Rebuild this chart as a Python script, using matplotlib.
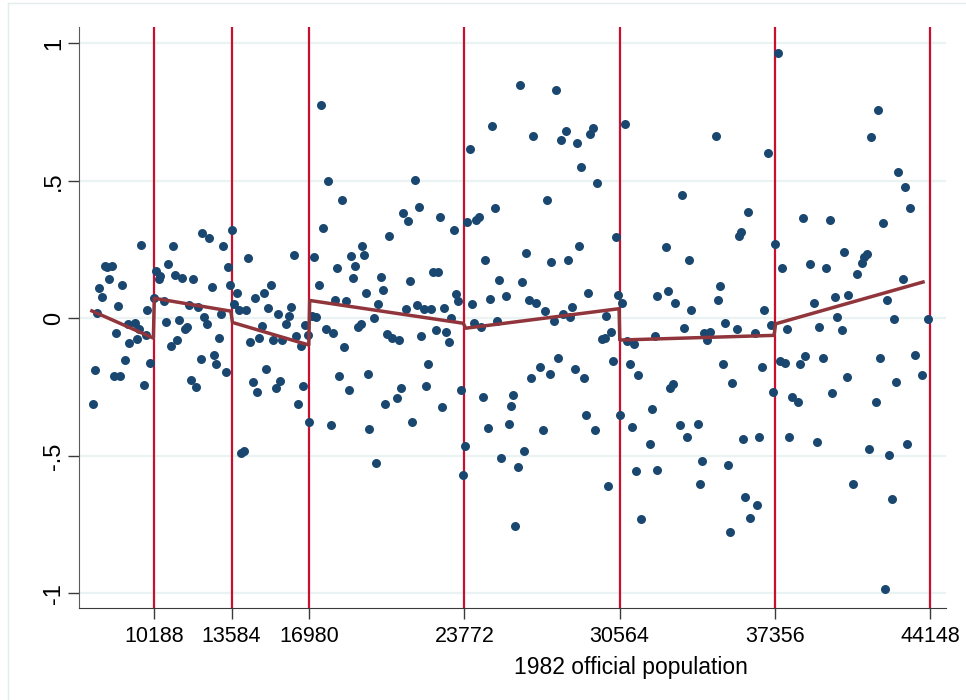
"""RD-style residual scatter against 1982 official population, with cutoffs."""

import matplotlib

matplotlib.use("Agg")
import matplotlib.pyplot as plt
import numpy as np
from matplotlib.lines import Line2D

plt.rcParams["font.family"] = ["Liberation Sans", "DejaVu Sans"]

# population thresholds (vertical lines / x ticks)
cutoffs = [10188, 13584, 16980, 23772, 30564, 37356, 44148]
cutoff_labels = ["10188", "13584", "16980", "23772", "30564", "37356", "44148"]

y_ticks = [-1, -0.5, 0, 0.5, 1]
y_labels = ["-1", "-.5", "0", ".5", "1"]

# scatter: population in thousands, residual
pop_k = [
    17.51, 17.80, 18.40, 17.60, 13.60, 12.30, 12.61, 9.61, 11.03, 13.22,
    19.30, 16.31, 17.20, 14.32, 18.81, 19.38, 8.04, 8.34, 8.14, 10.81,
    13.41, 18.20, 19.00, 10.29, 10.45, 10.41, 11.11, 11.41, 11.91, 8.22,
    18.91, 7.79, 8.80, 12.71, 13.50, 15.30, 17.40, 7.91, 13.81, 15.02,
    14.60, 19.47, 8.63, 10.20, 9.90, 10.61, 11.71, 12.13, 13.70, 13.92,
    14.21, 15.19, 16.20, 18.11, 18.59, 13.12, 15.63, 16.10, 12.39, 7.69,
    17.28, 17.12, 9.05, 9.34, 9.53, 8.54, 9.09, 9.43, 9.83, 8.91,
    7.61, 8.42, 8.71, 10.01, 9.74, 7.51, 10.73, 11.28, 11.55, 11.62,
    12.51, 11.19, 10.92, 13.02, 12.23, 12.81, 12.91, 13.33, 11.82, 12.01,
    14.01, 14.11, 14.40, 14.80, 14.91, 15.41, 15.78, 15.96, 16.40, 16.62,
    16.81, 16.94, 15.10, 14.52, 14.71, 15.51, 15.72, 16.72, 16.50, 16.99,
    17.70, 18.02, 18.50, 18.30, 18.71, 17.92, 19.13, 19.23, 19.57, 19.60,
    26.20, 27.78, 24.99, 30.79, 24.02, 26.79, 28.00, 28.20, 28.70, 29.28,
    29.40, 28.87, 29.59, 21.62, 21.78, 21.10, 21.32, 20.49, 22.70, 23.30,
    23.90, 24.29, 24.41, 25.11, 27.40, 30.39, 28.79, 26.48, 24.69, 27.57,
    28.29, 20.11, 20.21, 21.40, 22.40, 22.62, 25.29, 26.31, 20.00, 21.20,
    21.70, 22.00, 22.30, 22.89, 23.39, 23.49, 24.09, 24.90, 25.59, 26.60,
    26.90, 27.30, 28.09, 28.49, 29.18, 29.97, 30.49, 30.68, 32.21, 19.82,
    23.17, 20.40, 20.59, 20.91, 21.89, 22.52, 22.98, 23.10, 24.19, 24.50,
    25.21, 27.69, 28.41, 30.19, 29.81, 29.91, 30.89, 31.19, 32.10, 22.19,
    21.00, 20.81, 20.30, 22.10, 22.80, 21.49, 23.61, 23.81, 23.71, 19.90,
    24.60, 24.80, 25.80, 25.90, 25.71, 25.39, 26.10, 26.39, 26.00, 26.69,
    27.09, 27.50, 27.88, 27.20, 28.60, 28.99, 29.08, 29.50, 30.29, 30.59,
    30.07, 31.01, 31.38, 31.11, 31.99, 31.89, 31.28, 32.19, 31.49, 37.48,
    41.87, 41.58, 34.78, 37.06, 42.76, 43.07, 43.27, 33.29, 36.17, 35.79,
    35.88, 38.58, 39.77, 42.08, 32.58, 33.59, 37.38, 37.68, 38.88, 39.58,
    40.40, 41.39, 41.26, 41.17, 40.96, 42.96, 32.68, 32.99, 33.67, 34.97,
    34.87, 36.88, 39.08, 39.98, 40.56, 42.26, 40.08, 42.58, 44.07, 33.39,
    34.27, 34.51, 34.40, 35.19, 35.70, 36.48, 37.18, 37.88, 39.29, 40.28,
    35.09, 35.49, 36.79, 32.78, 32.89, 33.19, 33.99, 33.51, 34.18, 34.08,
    35.29, 35.98, 36.68, 36.06, 36.58, 36.28, 35.38, 37.28, 37.58, 37.80,
    38.09, 38.38, 37.99, 38.47, 38.68, 39.46, 40.50, 39.87, 39.20, 40.76,
    41.48, 41.77, 41.96, 42.37, 42.48, 42.16, 42.67, 43.15, 43.48, 43.78,
]
resid = [
    0.775, 0.500, 0.431, 0.327, 0.321, 0.309, 0.291, 0.265, 0.263, 0.263,
    0.263, 0.230, 0.223, 0.219, 0.225, 0.231, 0.191, 0.191, 0.187, 0.197,
    0.188, 0.182, 0.191, 0.171, 0.153, 0.142, 0.156, 0.145, 0.143, 0.142,
    0.145, 0.111, 0.122, 0.115, 0.122, 0.120, 0.120, 0.076, 0.093, 0.093,
    0.075, 0.093, 0.045, 0.075, 0.031, 0.062, 0.048, 0.041, 0.052, 0.030,
    0.030, 0.037, 0.041, 0.068, 0.064, 0.015, 0.015, 0.009, 0.005, 0.020,
    0.005, 0.009, -0.020, -0.016, -0.038, -0.052, -0.090, -0.074, -0.062, -0.151,
    -0.187, -0.211, -0.211, -0.164, -0.244, -0.313, -0.012, -0.005, -0.038, -0.033,
    -0.020, -0.080, -0.100, -0.073, -0.148, -0.132, -0.167, -0.196, -0.225, -0.250,
    -0.489, -0.484, -0.087, -0.071, -0.028, -0.080, -0.078, -0.021, -0.064, -0.101,
    -0.024, -0.062, -0.183, -0.232, -0.268, -0.252, -0.228, -0.246, -0.311, -0.378,
    -0.040, -0.052, -0.105, -0.209, -0.261, -0.388, -0.032, -0.022, -0.201, -0.401,
    0.848, 0.829, 0.699, 0.708, 0.615, 0.662, 0.649, 0.682, 0.636, 0.669,
    0.693, 0.551, 0.493, 0.504, 0.406, 0.383, 0.354, 0.300, 0.369, 0.321,
    0.349, 0.359, 0.368, 0.400, 0.430, 0.297, 0.263, 0.236, 0.211, 0.206,
    0.212, 0.151, 0.102, 0.135, 0.168, 0.168, 0.138, 0.131, 0.051, 0.035,
    0.049, 0.033, 0.034, 0.039, 0.088, 0.062, 0.051, 0.070, 0.080, 0.067,
    0.055, 0.028, 0.017, 0.040, 0.092, 0.008, 0.084, 0.055, 0.082, 0.001,
    0.001, -0.058, -0.071, -0.080, -0.065, -0.041, -0.050, -0.085, -0.017, -0.032,
    -0.010, -0.011, 0.005, -0.050, -0.074, -0.071, -0.084, -0.092, -0.065, -0.165,
    -0.252, -0.290, -0.311, -0.246, -0.323, -0.377, -0.262, -0.464, -0.569, -0.526,
    -0.287, -0.400, -0.319, -0.280, -0.383, -0.508, -0.541, -0.481, -0.755, -0.216,
    -0.176, -0.204, -0.143, -0.407, -0.185, -0.216, -0.352, -0.407, -0.154, -0.352,
    -0.611, -0.165, -0.206, -0.396, -0.329, -0.456, -0.555, -0.552, -0.730, 0.965,
    0.756, 0.658, 0.663, 0.600, 0.531, 0.477, 0.400, 0.448, 0.388, 0.298,
    0.314, 0.366, 0.357, 0.347, 0.259, 0.213, 0.270, 0.184, 0.197, 0.184,
    0.242, 0.233, 0.223, 0.200, 0.162, 0.142, 0.098, 0.056, 0.030, 0.116,
    0.065, 0.029, 0.057, 0.077, 0.086, 0.067, 0.006, -0.004, -0.001, -0.034,
    -0.053, -0.051, -0.080, -0.016, -0.039, -0.053, -0.025, -0.039, -0.032, -0.044,
    -0.165, -0.235, -0.176, -0.252, -0.238, -0.387, -0.385, -0.431, -0.518, -0.603,
    -0.535, -0.440, -0.432, -0.651, -0.680, -0.726, -0.777, -0.267, -0.155, -0.161,
    -0.287, -0.304, -0.431, -0.167, -0.137, -0.145, -0.212, -0.272, -0.451, -0.601,
    -0.475, -0.303, -0.144, -0.496, -0.656, -0.985, -0.233, -0.456, -0.133, -0.206,
]

# piecewise linear fit (thousands, fitted value)
fit_k = [7.47, 10.16, 10.20, 13.55, 13.62, 16.96, 17.00, 23.72, 23.83, 30.54, 30.57, 37.32, 37.39, 43.84]
fit_y = [0.027, -0.072, 0.073, 0.026, -0.015, -0.097, 0.065, -0.018, -0.036, 0.035, -0.079, -0.062, -0.020, 0.132]

NAVY = "#1a476f"
MAROON = "#90353b"
LINE_RED = "#c8102e"
GRID = "#eaf2f3"


def main() -> None:
    pop = np.array(pop_k) * 1000
    fit_x = np.array(fit_k) * 1000

    fig = plt.figure(figsize=(9.66, 7.0), dpi=100)
    ax = fig.add_axes([0.0818, 0.1314, 0.8975, 0.830])

    for c in cutoffs:
        ax.axvline(c, color=LINE_RED, linewidth=1.6, zorder=1.5)

    ax.scatter(pop, resid, s=42, color=NAVY, linewidths=0, zorder=3)
    ax.plot(fit_x, fit_y, color=MAROON, linewidth=2.5, zorder=4)

    ax.set_xlim(6906, 44846)
    ax.set_ylim(-1.0535, 1.0593)

    ax.set_xticks(cutoffs)
    ax.set_xticklabels(cutoff_labels, fontsize=15.5)
    ax.set_yticks(y_ticks)
    ax.set_yticklabels(y_labels, fontsize=17, rotation=90, va="center")

    ax.yaxis.grid(True, color=GRID, linewidth=1.6)
    ax.set_axisbelow(True)

    for side in ("top", "right"):
        ax.spines[side].set_visible(False)
    ax.spines["left"].set_color("#5a5a5a")
    ax.spines["bottom"].set_color("#3a3a3a")
    ax.tick_params(axis="y", length=8, width=1, color="#3a3a3a", pad=2)
    ax.tick_params(axis="x", length=8, width=1, color="#3a3a3a", pad=5)

    ax.set_xlabel("1982 official population", fontsize=16.5)
    ax.xaxis.set_label_coords(0.637, -0.082)

    # faint outer graph-region border
    fig.add_artist(Line2D([8 / 966, 8 / 966], [0, 1 - 3 / 700], transform=fig.transFigure,
                          color="#e3ecee", linewidth=1))
    fig.add_artist(Line2D([8 / 966, 1], [1 - 3 / 700, 1 - 3 / 700], transform=fig.transFigure,
                          color="#e3ecee", linewidth=1))

    fig.savefig("out.png", dpi=100)
    plt.close(fig)


if __name__ == "__main__":
    main()
